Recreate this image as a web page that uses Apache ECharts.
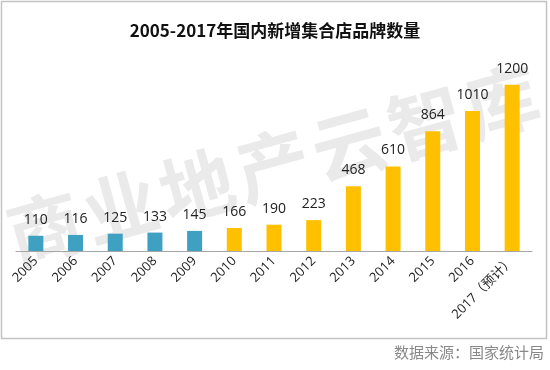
<!DOCTYPE html>
<html>
<head>
<meta charset="utf-8">
<script src="https://cdn.jsdelivr.net/npm/echarts@6/dist/echarts.min.js"></script>
<style>html,body{margin:0;padding:0;background:#fff;}#c{width:550px;height:370px;}</style>
</head>
<body>
<div id="c"></div>
<script>
var titleText = '2005-2017年国内新增集合店品牌数量';
var sourceText = '数据来源：国家统计局';
var watermarkText = '商业地产云智库';
var categories = ['2005','2006','2007','2008','2009','2010','2011','2012','2013','2014','2015','2016','2017（预计）'];
var values = [110,116,125,133,145,166,190,223,468,610,864,1010,1200];
var earlyCount = 5; // first five years drawn in blue

// watermark: characters laid out along a slanted line (decoration only)
var wmAngle = 0.27, wmStep = 79, wmCx = 273, wmCy = 165;
var wmChars = watermarkText.split('');
var wmGraphics = wmChars.map(function (ch, i) {
  var d = (i - (wmChars.length - 1) / 2) * wmStep;
  return {type: 'text', z: 0, x: wmCx + d * Math.cos(wmAngle), y: wmCy - d * Math.sin(wmAngle), rotation: wmAngle,
    style: {text: ch, font: 'bold 74px "Noto Sans CJK SC"', fill: '#eaeaea', align: 'center', verticalAlign: 'middle'}};
});

var chart = echarts.init(document.getElementById('c'));
chart.setOption({
  animation: false,
  backgroundColor: '#fff',
  title: {
    text: titleText,
    left: 'center',
    top: 17,
    textStyle: {fontFamily: 'Noto Sans CJK SC', fontSize: 17, fontWeight: 'bold', color: '#111'}
  },
  graphic: [
    {type: 'rect', z: 0, shape: {x: 1.5, y: 1.5, width: 545, height: 337}, style: {fill: 'none', stroke: '#c4c4c4', lineWidth: 1.5}}
  ].concat(wmGraphics).concat([
    {type: 'text', z: 5, right: 6, top: 345,
      style: {text: sourceText, font: '15px "Noto Sans CJK SC"', fill: '#888'}}
  ]),
  grid: {left: 16, right: 18, top: 57, height: 194, containLabel: false},
  xAxis: {
    type: 'category',
    data: categories,
    axisLine: {lineStyle: {color: '#a6a6a6', width: 1}},
    axisTick: {show: false},
    axisLabel: {rotate: 45, fontSize: 13, color: '#222', fontFamily: 'Open Sans, Noto Sans CJK SC', margin: 8, interval: 0}
  },
  yAxis: {type: 'value', min: 0, max: 1400, show: false, splitLine: {show: false}},
  series: [{
    type: 'bar',
    z: 3,
    barWidth: 15,
    data: values.map(function (v, i) {
      return {value: v, itemStyle: {color: i < earlyCount ? '#3ea1c2' : '#ffc000'}};
    }),
    label: {show: true, position: 'top', distance: 9, fontSize: 14, color: '#222', fontFamily: 'Open Sans'}
  }]
});
</script>
</body>
</html>
